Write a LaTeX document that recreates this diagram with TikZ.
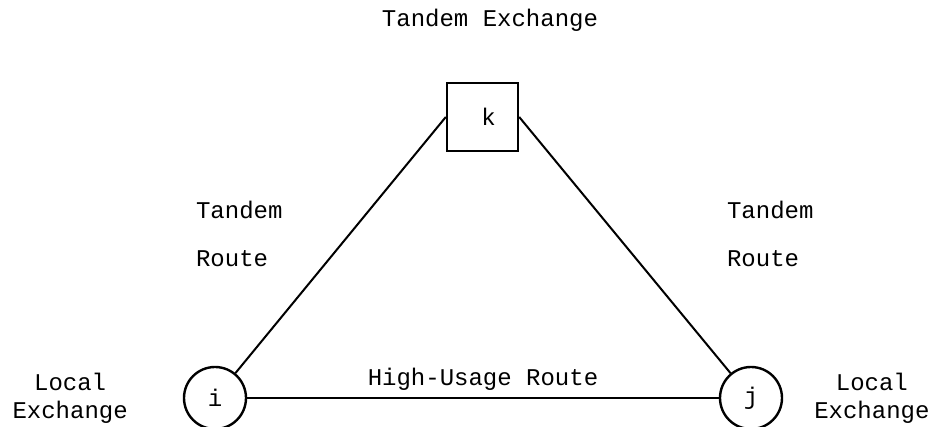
\documentclass[tikz,border=0pt]{standalone}
\usepackage{fontspec}
\setmonofont{Liberation Mono}
\usepackage{tikz}
\usetikzlibrary{positioning}

\begin{document}
\begin{tikzpicture}[
  x=0.5pt, y=0.5pt,
  txt/.style={font=\ttfamily\fontsize{12}{14}\selectfont},
  tandemx/.style={draw, rectangle, line width=1.2pt, minimum width=35.5pt, minimum height=34pt, txt},
  localx/.style={draw, circle, line width=1.2pt, minimum size=31pt, inner sep=0pt, txt},
  lbl/.style={txt, align=center},
  link/.style={line width=1pt},
]
  \useasboundingbox (0,0) rectangle (938,427);

  \node[tandemx] (k) at (482.5,310) {\hspace{6pt}k};
  \node[localx] (i) at (215,29) {i};
  \node[localx] (j) at (751,29) {j};

  \node[lbl] (ktitle) at (490,407) {Tandem Exchange};
  \node[lbl, left=24pt of i] (ilbl) {Local\\Exchange};
  \node[lbl, right=12pt of j] (jlbl) {Local\\Exchange};
  \node[txt, align=left, anchor=west] (ikroute) at (189,193) {Tandem\\[10pt]Route};
  \node[txt, align=left, anchor=west] (jkroute) at (720,193) {Tandem\\[10pt]Route};

  \draw[link] (k.west) -- (i);
  \draw[link] (k.east) -- (j);
  \draw[link] (i) -- node[txt, above] (hur) {High-Usage Route} (j);
\end{tikzpicture}
\end{document}
